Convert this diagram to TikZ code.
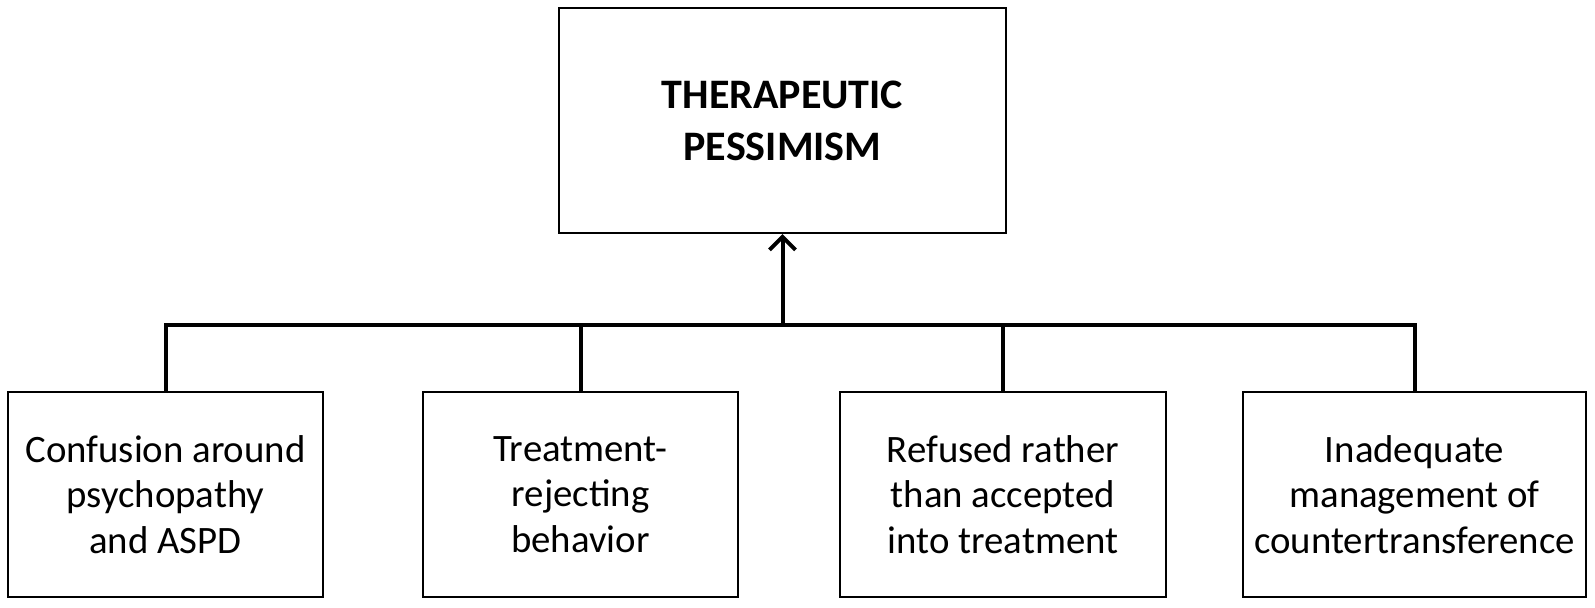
\documentclass[tikz,border=0pt]{standalone}
\usepackage{fontspec}
\setmainfont{Carlito}
\usetikzlibrary{arrows.meta}

\begin{document}
\begin{tikzpicture}[x=0.5pt,y=-0.5pt,
  box/.style={draw,line width=1pt,inner sep=0pt,align=center,
    minimum height=102.5pt,font=\fontsize{19.4}{22.8}\selectfont},
  link/.style={line width=2pt}]
\useasboundingbox (0,0) rectangle (1595,607);
\node[box,minimum width=223.5pt,minimum height=112.5pt,
  font=\fontsize{21}{26}\selectfont\bfseries] (top) at (782.5,120.5){THERAPEUTIC\\PESSIMISM};
\node[box,minimum width=157.5pt] (b1) at (165.5,494.5){Confusion around\\psychopathy\\and ASPD};
\node[box,minimum width=157.5pt] (b2) at (580.5,494.5){Treatment-\\rejecting\\behavior};
\node[box,minimum width=163pt] (b3) at (1003,494.5){Refused rather\\than accepted\\into treatment};
\node[box,minimum width=171.5pt] (b4) at (1414.5,494.5){Inadequate\\management of\\countertransference};
\coordinate (bar) at (782.5,325);
\draw[link] (b1.north) |- (bar) -| (b4.north);
\foreach \n in {b2,b3}
  \draw[link] (\n.north) -- (\n.north |- bar);
\draw[link,-{Straight Barb[length=6.5pt,width=13pt]}] (bar) -- (top.south);
\end{tikzpicture}
\end{document}
